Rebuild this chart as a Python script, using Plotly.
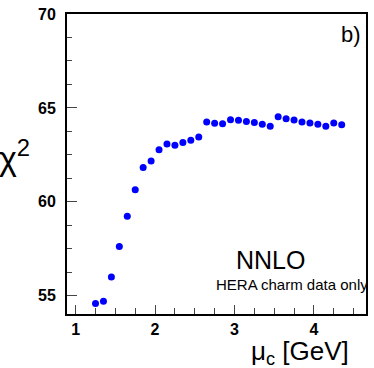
import plotly.graph_objects as go

# charm mass scan, chi2 vs mu_c
mu_c = [1.25, 1.35, 1.45, 1.55, 1.65, 1.75, 1.85, 1.95, 2.05, 2.15, 2.25,
        2.35, 2.45, 2.55, 2.65, 2.75, 2.85, 2.95, 3.05, 3.15, 3.25, 3.35,
        3.45, 3.55, 3.65, 3.75, 3.85, 3.95, 4.05, 4.15, 4.25, 4.35]
chi2 = [54.59, 54.71, 56.00, 57.62, 59.24, 60.65, 61.83, 62.18, 62.77, 63.08,
        63.01, 63.16, 63.28, 63.45, 64.25, 64.18, 64.16, 64.37, 64.34, 64.28,
        64.22, 64.13, 64.02, 64.53, 64.43, 64.36, 64.25, 64.20, 64.13, 64.02,
        64.20, 64.10]

x_ticks = [1, 2, 3, 4]
y_ticks = [55, 60, 65, 70]

FONT = "Liberation Sans, Arial, Helvetica, sans-serif"

fig = go.Figure()
fig.add_trace(go.Scatter(
    x=mu_c, y=chi2, mode="markers",
    marker=dict(color="#0000ff", size=7, line_width=0),
    showlegend=False, hoverinfo="x+y"
))

fig.update_layout(
    width=374, height=368,
    margin=dict(l=67, r=6, t=8, b=54),
    plot_bgcolor="white", paper_bgcolor="white",
    font=dict(family=FONT, color="black"),
    xaxis=dict(range=[0.891, 4.656], tickvals=x_ticks, ticktext=[str(v) for v in x_ticks],
               ticks="inside", ticklen=9, tickwidth=1, tickcolor="#444",
               minor=dict(dtick=0.25, tick0=0, ticks="inside", ticklen=6, tickcolor="#444"),
               showline=True, linecolor="black", linewidth=2, mirror=True,
               showgrid=False, zeroline=False, ticklabeloverflow="allow",
               tickfont=dict(family=FONT, size=16, weight="bold")),
    yaxis=dict(range=[54.03, 70.002], tickvals=y_ticks, ticktext=[str(v) for v in y_ticks],
               ticks="inside", ticklen=10, tickwidth=1, tickcolor="#444",
               minor=dict(dtick=1.25, tick0=0, ticks="inside", ticklen=5, tickcolor="#444"),
               showline=True, linecolor="black", linewidth=2, mirror=True,
               showgrid=False, zeroline=False, ticklabeloverflow="allow",
               ticklabelstandoff=6,
               tickfont=dict(family=FONT, size=16, weight="bold")),
)

# axis titles
fig.add_annotation(text="χ<sup>2</sup>", xref="paper", yref="paper", x=-0.235, y=0.53,
                   xanchor="left", yanchor="middle", showarrow=False,
                   font=dict(family=FONT, size=34))
fig.add_annotation(text="μ<sub>c</sub> [GeV]", xref="paper", yref="paper", x=0.95, y=-0.068,
                   xanchor="right", yanchor="top", showarrow=False,
                   font=dict(family=FONT, size=26))

# labels inside the frame
fig.add_annotation(text="b)", xref="paper", yref="paper", x=0.99, y=0.98,
                   xanchor="right", yanchor="top", showarrow=False,
                   font=dict(family=FONT, size=22))
fig.add_annotation(text="NNLO", xref="paper", yref="paper", x=0.68, y=0.181,
                   xanchor="center", yanchor="middle", showarrow=False,
                   font=dict(family=FONT, size=25))
fig.add_annotation(text="HERA charm data only", xref="paper", yref="paper", x=1.015, y=0.1,
                   xanchor="right", yanchor="middle", showarrow=False,
                   font=dict(family=FONT, size=15))

# drop the default page margin so the figure sits at the window corner
fig.write_html("out.html", config={"displayModeBar": False},
               post_script="document.body.style.margin='0px';")
